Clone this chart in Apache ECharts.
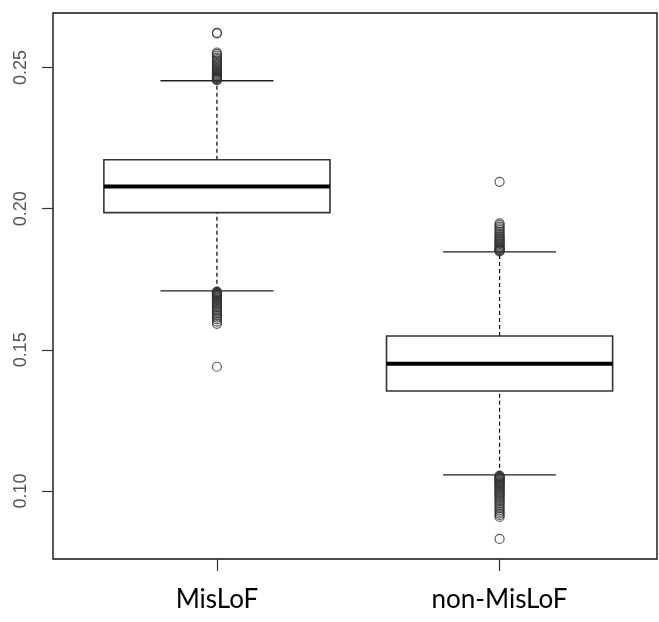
<!DOCTYPE html>
<html>
<head>
<meta charset="utf-8">
<script src="https://cdn.jsdelivr.net/npm/echarts@6/dist/echarts.min.js"></script>
<style>
  html, body { margin: 0; padding: 0; background: #fff; }
  #chart { width: 659px; height: 622px; }
</style>
</head>
<body>
<div id="chart"></div>
<script>
// groups along the x axis (positions 1 and 2)
const categories = ['MisLoF', 'non-MisLoF'];

// box statistics
const lowerWhisker = [0.1709, 0.1057];
const q1 = [0.1986, 0.1354];
const median = [0.2078, 0.1451];
const q3 = [0.2173, 0.1549];
const upperWhisker = [0.2453, 0.1847];

// outliers
const outliersMisLoF = [
    0.2623, 0.2621, 0.2553, 0.2548, 0.2542, 0.2535, 0.2530, 0.2525, 0.2520,
    0.2515, 0.2512, 0.2508, 0.2503, 0.2500, 0.2496, 0.2492, 0.2488, 0.2485,
    0.2481, 0.2478, 0.2475, 0.2472, 0.2470, 0.2467, 0.2465, 0.2463, 0.2461,
    0.2459, 0.2457, 0.2455,
    0.1706, 0.1704, 0.1702, 0.1700, 0.1698, 0.1696, 0.1694, 0.1691, 0.1688,
    0.1685, 0.1682, 0.1679, 0.1676, 0.1672, 0.1668, 0.1664, 0.1660, 0.1655,
    0.1650, 0.1645, 0.1640, 0.1635, 0.1630, 0.1625, 0.1620, 0.1614, 0.1608,
    0.1600, 0.1592, 0.1440
];
const outliersNonMisLoF = [
    0.2095, 0.1948, 0.1942, 0.1936, 0.1930, 0.1924, 0.1918, 0.1912, 0.1907,
    0.1902, 0.1898, 0.1894, 0.1890, 0.1886, 0.1882, 0.1878, 0.1874, 0.1870,
    0.1866, 0.1863, 0.1860, 0.1857, 0.1855, 0.1853, 0.1851, 0.1849,
    0.1054, 0.1052, 0.1050, 0.1048, 0.1046, 0.1043, 0.1040, 0.1037, 0.1034,
    0.1031, 0.1028, 0.1025, 0.1022, 0.1018, 0.1014, 0.1010, 0.1006, 0.1002,
    0.0998, 0.0994, 0.0990, 0.0986, 0.0982, 0.0977, 0.0972, 0.0967, 0.0962,
    0.0956, 0.0950, 0.0944, 0.0938, 0.0932, 0.0926, 0.0920, 0.0914, 0.0908,
    0.0830
];

const yTicks = [0.10, 0.15, 0.20, 0.25];
const xTicks = [1, 2];

const boxData = categories.map((c, i) => [i + 1, lowerWhisker[i], q1[i], median[i], q3[i], upperWhisker[i]]);
const outlierData = [
    ...outliersMisLoF.map(v => [1, v]),
    ...outliersNonMisLoF.map(v => [2, v])
];

const renderBox = (params, api) => {
    const x = api.value(0);
    const halfBox = api.size([0.8, 0])[0] / 2;
    const halfCap = halfBox / 2;
    const pLow = api.coord([x, api.value(1)]);
    const pQ1 = api.coord([x, api.value(2)]);
    const pMed = api.coord([x, api.value(3)]);
    const pQ3 = api.coord([x, api.value(4)]);
    const pHigh = api.coord([x, api.value(5)]);
    const cx = pMed[0];
    const dashed = { stroke: '#000', lineWidth: 1.2, lineDash: [4, 3] };
    const solid = { stroke: '#222', lineWidth: 1.3 };
    return {
        type: 'group',
        children: [
            { type: 'line', shape: { x1: cx, y1: pLow[1], x2: cx, y2: pQ1[1] }, style: dashed },
            { type: 'line', shape: { x1: cx, y1: pQ3[1], x2: cx, y2: pHigh[1] }, style: dashed },
            { type: 'line', shape: { x1: cx - halfCap, y1: pLow[1], x2: cx + halfCap, y2: pLow[1] }, style: solid },
            { type: 'line', shape: { x1: cx - halfCap, y1: pHigh[1], x2: cx + halfCap, y2: pHigh[1] }, style: solid },
            {
                type: 'rect',
                shape: { x: cx - halfBox, y: pQ3[1], width: halfBox * 2, height: pQ1[1] - pQ3[1] },
                style: { fill: '#fff', stroke: '#333', lineWidth: 1.6 }
            },
            { type: 'line', shape: { x1: cx - halfBox, y1: pMed[1], x2: cx + halfBox, y2: pMed[1] }, style: { stroke: '#000', lineWidth: 4 } }
        ]
    };
};

const chart = echarts.init(document.getElementById('chart'));
chart.setOption({
    animation: false,
    backgroundColor: '#fff',
    grid: {
        left: 53, right: 2, top: 13, bottom: 63,
        show: true, borderColor: '#111', borderWidth: 1.4, backgroundColor: 'transparent'
    },
    xAxis: {
        type: 'value',
        min: 0.42,
        max: 2.557,
        axisLine: { show: false },
        splitLine: { show: false },
        axisTick: { show: true, customValues: xTicks, length: 12, lineStyle: { color: '#333', width: 1.2 } },
        axisLabel: {
            customValues: xTicks,
            formatter: (v) => categories[Math.round(v) - 1],
            fontFamily: 'Lato',
            fontSize: 26,
            color: '#000',
            margin: 28
        }
    },
    yAxis: {
        type: 'value',
        min: 0.0759,
        max: 0.2693,
        axisLine: { show: false },
        splitLine: { show: false },
        axisTick: { show: true, customValues: yTicks, length: 11, lineStyle: { color: '#333', width: 1.2 } },
        axisLabel: {
            customValues: yTicks,
            formatter: (v) => v.toFixed(2),
            rotate: 90,
            fontFamily: 'Liberation Sans',
            fontSize: 18,
            color: '#555',
            margin: 23
        }
    },
    series: [
        {
            type: 'custom',
            renderItem: renderBox,
            data: boxData,
            z: 2
        },
        {
            type: 'scatter',
            data: outlierData,
            symbol: 'circle',
            symbolSize: 9,
            itemStyle: { color: 'rgba(0,0,0,0)', borderColor: '#333', borderWidth: 1.2 },
            z: 3
        }
    ]
});
</script>
</body>
</html>
